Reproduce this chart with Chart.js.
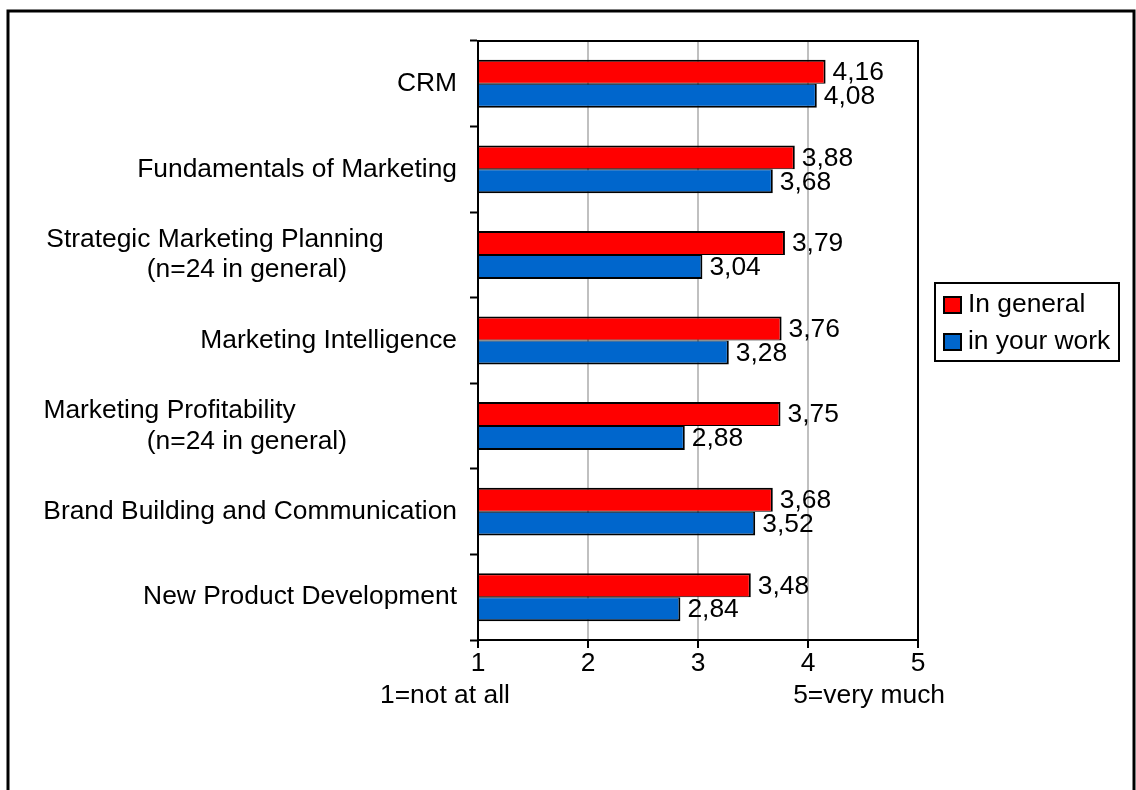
<!DOCTYPE html>
<html>
<head>
<meta charset="utf-8">
<title>Marketing topics</title>
<script src="https://cdn.jsdelivr.net/npm/chart.js@4.4.0/dist/chart.umd.min.js"></script>
<style>
  html, body { margin: 0; padding: 0; background: #fff; }
  #chart-box { width: 1136px; height: 790px; }
</style>
</head>
<body>
<div id="chart-box"><canvas id="topics-chart" width="1136" height="790"></canvas></div>
<script>
// Excel-style wrapped labels keep their padding spaces, so the lines sit off the right edge
const pad = (text, n) => text + " ".repeat(n);

const categories = [
    "CRM",
    "Fundamentals of Marketing",
    [pad("Strategic Marketing Planning", 10), pad("(n=24 in general)", 15)],
    "Marketing Intelligence",
    [pad("Marketing Profitability", 22), pad("(n=24 in general)", 15)],
    "Brand Building and Communication",
    "New Product Development",
];
const inGeneral = [4.16, 3.88, 3.79, 3.76, 3.75, 3.68, 3.48];
const inYourWork = [4.08, 3.68, 3.04, 3.28, 2.88, 3.52, 2.84];
const seriesNames = ["In general", "in your work"];
const scaleMin = 1;
const scaleMax = 5;
const scaleNotes = ["1=not at all", "5=very much"];

const FONT = "'Liberation Sans', Arial, sans-serif";
const SIZE = 26.4;
Chart.defaults.font.family = FONT;
Chart.defaults.font.size = SIZE;
Chart.defaults.color = "#000";

const fmt = (v) => v.toFixed(2).replace(".", ",");

// white page, outer frame, plot border, value labels, legend and scale notes
const decorations = {
    id: "decorations",
    beforeDraw(chart) {
        const ctx = chart.ctx;
        ctx.save();
        ctx.fillStyle = "#fff";
        ctx.fillRect(0, 0, chart.width, chart.height);
        ctx.strokeStyle = "#000";
        ctx.lineWidth = 3;
        ctx.strokeRect(8, 11, 1126, 820);
        ctx.restore();
    },
    afterDatasetsDraw(chart) {
        const ctx = chart.ctx;
        const area = chart.chartArea;
        ctx.save();
        ctx.strokeStyle = "#000";
        ctx.lineWidth = 2;
        ctx.strokeRect(area.left, area.top, area.right - area.left, area.bottom - area.top);

        ctx.font = SIZE + "px " + FONT;
        ctx.fillStyle = "#000";
        ctx.textAlign = "left";
        ctx.textBaseline = "middle";
        chart.data.datasets.forEach((ds, i) => {
            chart.getDatasetMeta(i).data.forEach((bar, j) => {
                ctx.fillText(fmt(ds.data[j]), bar.x + 7, bar.y + 1);
            });
        });
        ctx.restore();
    },
    afterDraw(chart) {
        const ctx = chart.ctx;
        ctx.save();
        // legend
        ctx.strokeStyle = "#000";
        ctx.lineWidth = 2;
        ctx.strokeRect(935, 283, 184, 78);
        ctx.font = SIZE + "px " + FONT;
        ctx.textBaseline = "middle";
        ctx.textAlign = "left";
        chart.data.datasets.forEach((ds, i) => {
            const y = 305 + i * 37;
            ctx.fillStyle = ds.backgroundColor;
            ctx.fillRect(944, y - 8, 17, 16);
            ctx.strokeRect(944, y - 8, 17, 16);
            ctx.fillStyle = "#000";
            ctx.fillText(ds.label, 968, y);
        });
        // scale notes under the axis
        ctx.fillText(scaleNotes[0], 380, 696);
        ctx.textAlign = "right";
        ctx.fillText(scaleNotes[1], 945, 696);
        ctx.restore();
    },
};

const ctx = document.getElementById("topics-chart").getContext("2d");
new Chart(ctx, {
    type: "bar",
    data: {
        labels: categories,
        datasets: [
            {
                label: seriesNames[0],
                data: inGeneral,
                backgroundColor: "#ff0000",
                borderColor: "#000",
                borderWidth: { top: 2, right: 2, bottom: 1, left: 2 },
                borderSkipped: false,
            },
            {
                label: seriesNames[1],
                data: inYourWork,
                backgroundColor: "#0066cc",
                borderColor: "#000",
                borderWidth: { top: 1, right: 2, bottom: 2, left: 2 },
                borderSkipped: false,
            },
        ],
    },
    options: {
        indexAxis: "y",
        responsive: false,
        animation: false,
        categoryPercentage: 0.56,
        barPercentage: 1,
        layout: { padding: { left: 10, top: 41, right: 218, bottom: 110 } },
        plugins: {
            legend: { display: false },
            tooltip: { enabled: false },
        },
        scales: {
            x: {
                type: "linear",
                min: scaleMin,
                max: scaleMax,
                ticks: { stepSize: 1, padding: 0, font: { size: SIZE } },
                grid: {
                    color: (c) => (c.tick && c.tick.value === scaleMax ? "#000" : "#c0c0c0"),
                    lineWidth: 2,
                    tickColor: "#000",
                    tickLength: 8,
                    tickWidth: 2,
                },
                border: { color: "#000", width: 2 },
                afterFit: (scale) => { scale.height = 40; },
            },
            y: {
                ticks: { padding: 13, font: { size: SIZE, lineHeight: 1.15 } },
                grid: {
                    offset: true,
                    drawOnChartArea: false,
                    tickColor: "#000",
                    tickLength: 8,
                    tickWidth: 2,
                },
                border: { color: "#000", width: 2 },
                afterFit: (scale) => { scale.width = 468; },
            },
        },
    },
    plugins: [decorations],
});
</script>
</body>
</html>
